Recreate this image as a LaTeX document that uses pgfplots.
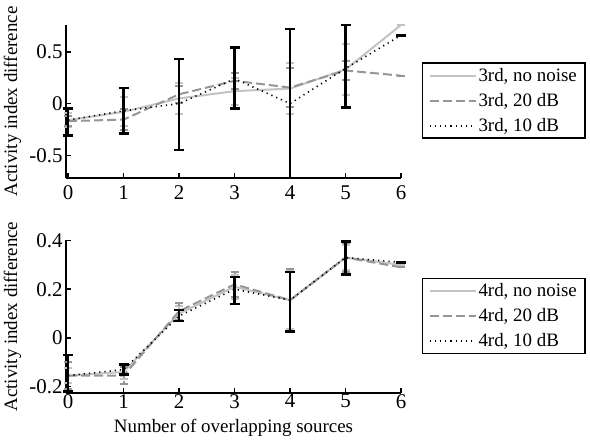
\documentclass[border=0pt]{standalone}
\usepackage{fontspec}
\setmainfont{Liberation Serif}
\usepackage{pgfplots}
\pgfplotsset{compat=1.18}
\usepackage{pgfplotstable}

% top panel (3rd order)
\pgfplotstableread{
x y ep em
0 -0.16 0.07 0.07
1 -0.08 0.14 0.14
2 0.05 0.15 0.15
3 0.12 0.13 0.13
4 0.145 0.25 0.25
5 0.33 0.25 0.25
6 0.76 0 0
}\topnone
\pgfplotstableread{
x y ep em
0 -0.17 0.05 0.05
1 -0.155 0.10 0.10
2 0.09 0.08 0.08
3 0.22 0.08 0.08
4 0.155 0.19 0.19
5 0.32 0.09 0.09
6 0.27 0 0
}\toptwenty
\pgfplotstableread{
x y ep em
0 -0.16 0.11 0.15
1 -0.07 0.22 0.22
2 0.0 0.43 0.45
3 0.24 0.30 0.29
4 0.0 0.72 0.72
5 0.34 0.42 0.38
6 0.66 0 0
}\topten

% bottom panel (4th order)
\pgfplotstableread{
x y ep em
0 -0.155 0.03 0.03
1 -0.14 0.03 0.03
2 0.10 0.03 0.03
3 0.21 0.05 0.05
4 0.155 0.12 0.12
5 0.33 0.05 0.05
6 0.30 0 0
}\botnone
\pgfplotstableread{
x y ep em
0 -0.155 0.055 0.055
1 -0.155 0.035 0.035
2 0.11 0.035 0.035
3 0.22 0.05 0.05
4 0.155 0.13 0.13
5 0.33 0.06 0.06
6 0.29 0 0
}\bottwenty
\pgfplotstableread{
x y ep em
0 -0.155 0.085 0.065
1 -0.13 0.02 0.02
2 0.09 0.025 0.02
3 0.20 0.05 0.06
4 0.155 0.115 0.128
5 0.33 0.065 0.07
6 0.31 0 0
}\botten

\definecolor{lightg}{RGB}{195,195,195}
\definecolor{midg}{RGB}{150,150,150}

\pgfplotsset{
  panel/.style={
    scale only axis, width=335bp,
    xmin=-0.04, xmax=6, xtick={0,...,6},
    axis x line*=bottom, axis y line*=left,
    axis line style={line width=2bp},
    tick style={line width=1.5bp, black}, major tick length=5bp, tick align=inside,
    clip=false,
    /pgf/number format/assume math mode=true,
    ticklabel style={font=\fontsize{21}{21}\selectfont},
    label style={font=\fontsize{19}{19}\selectfont},
    ylabel={Activity index difference},
    ylabel style={at={(axis description cs:-0.16,0.5)}, anchor=center},
    legend cell align=left,
    legend image code/.code={\draw[##1] (0bp,0bp) -- (46bp,0bp);},
    legend style={at={(axis description cs:1.062,0.755)}, anchor=north west,
      draw=black, line width=1.5bp, inner xsep=6bp, inner ysep=3bp,
      font=\fontsize{19}{19}\selectfont, row sep=6.5bp},
  },
  nonoise/.style={color=lightg, line width=2bp, solid,
    error bars/.cd, y dir=both, y explicit,
    error bar style={line width=2bp, color=lightg, dash pattern=on 2bp off 3bp},
    error mark options={rotate=90, mark size=4bp, solid, line width=2bp, color=lightg}},
  twenty/.style={color=midg, line width=2bp, dash pattern=on 9bp off 4bp,
    error bars/.cd, y dir=both, y explicit,
    error bar style={line width=2bp, color=midg, dash pattern=on 2bp off 3bp},
    error mark options={rotate=90, mark size=4bp, solid, line width=2bp, color=midg}},
  ten/.style={color=black, line width=1.6bp, dash pattern=on 1.2bp off 4bp,
    error bars/.cd, y dir=both, y explicit,
    error bar style={line width=2.5bp, black, solid},
    error mark options={rotate=90, mark size=5bp, solid, line width=2.5bp, black}},
}

\begin{document}
\begin{tikzpicture}
\path[use as bounding box] (0bp,0bp) rectangle (590bp,440bp);

\begin{axis}[panel, at={(66bp,262bp)}, anchor=south west, height=153bp,
  ymin=-0.72, ymax=0.76, ytick={-0.5,0,0.5},
  xticklabel style={yshift=-4bp}]
\addplot[nonoise] table[x=x, y=y, y error plus=ep, y error minus=em] {\topnone};
\addlegendentry{3rd, no noise}
\addplot[twenty] table[x=x, y=y, y error plus=ep, y error minus=em] {\toptwenty};
\addlegendentry{3rd, 20 dB}
\addplot[ten] table[x=x, y=y, y error plus=ep, y error minus=em] {\topten};
\addlegendentry{3rd, 10 dB}
\end{axis}

\begin{axis}[panel, at={(66bp,47.3bp)}, anchor=south west, height=152.2bp,
  ymin=-0.225, ymax=0.4, ytick={-0.2,0,0.2,0.4},
  xticklabel style={yshift=2bp},
  xlabel={Number of overlapping sources},
  xlabel style={at={(axis description cs:0.5,-0.23)}, anchor=center}]
\addplot[nonoise] table[x=x, y=y, y error plus=ep, y error minus=em] {\botnone};
\addlegendentry{4rd, no noise}
\addplot[twenty] table[x=x, y=y, y error plus=ep, y error minus=em] {\bottwenty};
\addlegendentry{4rd, 20 dB}
\addplot[ten] table[x=x, y=y, y error plus=ep, y error minus=em] {\botten};
\addlegendentry{4rd, 10 dB}
\end{axis}
\end{tikzpicture}
\end{document}
